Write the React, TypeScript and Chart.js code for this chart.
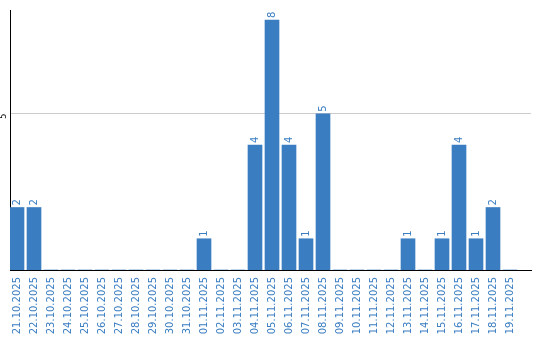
import React, { useEffect, useRef } from "react";
import { Chart, registerables } from "chart.js";

Chart.register(...registerables);

const dates = [
  "21.10.2025", "22.10.2025", "23.10.2025", "24.10.2025", "25.10.2025",
  "26.10.2025", "27.10.2025", "28.10.2025", "29.10.2025", "30.10.2025",
  "31.10.2025", "01.11.2025", "02.11.2025", "03.11.2025", "04.11.2025",
  "05.11.2025", "06.11.2025", "07.11.2025", "08.11.2025", "09.11.2025",
  "10.11.2025", "11.11.2025", "12.11.2025", "13.11.2025", "14.11.2025",
  "15.11.2025", "16.11.2025", "17.11.2025", "18.11.2025", "19.11.2025",
];

const counts = [
  2, 2, 0, 0, 0, 0, 0, 0, 0, 0,
  0, 1, 0, 0, 4, 8, 4, 1, 5, 0,
  0, 0, 0, 1, 0, 1, 4, 1, 2, 0,
];

const yTickValues = [5];

const BLUE = "#3a7dc1";

const valueLabels = {
  id: "valueLabels",
  afterDatasetsDraw(chart: any) {
    const ctx = chart.ctx;
    const meta = chart.getDatasetMeta(0);
    ctx.save();
    ctx.fillStyle = BLUE;
    ctx.font = "10px 'DejaVu Sans'";
    meta.data.forEach((bar: any, i: number) => {
      const v = counts[i];
      if (!v) return;
      ctx.save();
      ctx.translate(bar.x, bar.y - 2);
      ctx.rotate(-Math.PI / 2);
      ctx.textAlign = "left";
      ctx.textBaseline = "middle";
      ctx.fillText(String(v), 0, 0);
      ctx.restore();
    });
    const y = chart.scales.y;
    ctx.fillStyle = "#000";
    ctx.font = "8px 'DejaVu Sans'";
    yTickValues.forEach((t) => {
      ctx.save();
      ctx.translate(4, y.getPixelForValue(t));
      ctx.rotate(-Math.PI / 2);
      ctx.textAlign = "right";
      ctx.textBaseline = "middle";
      ctx.fillText(String(t), 0, 0);
      ctx.restore();
    });
    ctx.restore();
  },
};

export default function App() {
  const ref = useRef<HTMLCanvasElement>(null);
  useEffect(() => {
    if (!ref.current) return;
    const chart = new Chart(ref.current, {
      type: "bar",
      data: {
        datasets: [
          {
            data: counts.map((v, i) => ({ x: i, y: v })) as any,
            backgroundColor: BLUE,
            barThickness: 14,
          },
        ],
      },
      options: {
        animation: false,
        responsive: false,
        devicePixelRatio: 1,
        layout: { padding: { top: 10, right: 9, left: 0, bottom: 0 } },
        plugins: {
          legend: { display: false },
          tooltip: { enabled: false },
        },
        scales: {
          x: {
            type: "linear",
            offset: false,
            min: -7 / 17,
            max: 514 / 17,
            grid: { display: false, drawTicks: false, offset: false },
            border: { display: true, color: "#000", width: 1 },
            afterBuildTicks: (scale: any) => {
              scale.ticks = dates.map((_, i) => ({ value: i }));
            },
            afterFit: (scale: any) => {
              scale.height = 70;
            },
            ticks: {
              autoSkip: false,
              maxRotation: 90,
              minRotation: 90,
              padding: 7,
              color: BLUE,
              font: { family: "'DejaVu Sans'", size: 10 },
              callback: (v: any) => dates[Math.round(Number(v))] ?? "",
            },
          },
          y: {
            min: 0,
            max: 8.32,
            afterBuildTicks: (scale: any) => {
              scale.ticks = yTickValues.map((v) => ({ value: v }));
            },
            afterFit: (scale: any) => {
              scale.width = 10;
            },
            grid: { color: "#cccccc", drawTicks: false },
            border: { display: true, color: "#000", width: 1 },
            ticks: { display: false },
          },
        },
      },
      plugins: [valueLabels],
    });
    return () => chart.destroy();
  }, []);
  return (
    <canvas
      ref={ref}
      width={540}
      height={340}
      style={{ position: "absolute", left: 0, top: 0, width: 540, height: 340 }}
    />
  );
}
